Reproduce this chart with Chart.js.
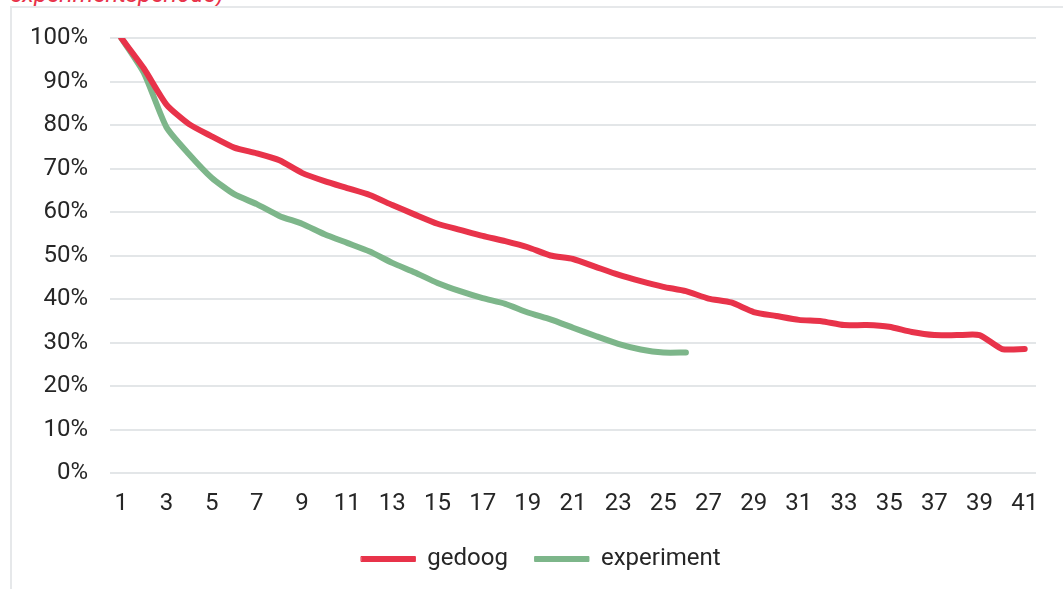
<!DOCTYPE html>
<html>
<head>
<meta charset="utf-8">
<script src="https://cdn.jsdelivr.net/npm/chart.js@4"></script>
<style>
  html, body { margin: 0; padding: 0; background: #fff; }
  body { width: 1063px; height: 589px; position: relative; overflow: hidden; font-family: Roboto, sans-serif; }
  #title { position: absolute; left: 10px; top: -20px; color: #e8334a; font-style: italic; font-size: 24px; white-space: nowrap; }
  #frameTop { position: absolute; left: 10px; top: 6px; width: 1053px; height: 2px; background: #e6e8ea; }
  #frameLeft { position: absolute; left: 10px; top: 6px; width: 2px; height: 583px; background: #e6e8ea; }
  #wrap { position: absolute; left: 0; top: 0; width: 1063px; height: 589px; }
</style>
</head>
<body>
<div id="title">experimentsperiode)</div>
<div id="frameTop"></div>
<div id="frameLeft"></div>
<div id="wrap"><canvas id="c"></canvas></div>
<script>
const categories = Array.from({length: 41}, (_, i) => String(i + 1));
const gedoog = [100, 93, 84.7, 80.2, 77.4, 74.8, 73.5, 71.9, 69, 67.1, 65.5, 63.9, 61.6, 59.4, 57.3, 55.9, 54.5, 53.3, 51.9, 50, 49.2, 47.4, 45.6, 44.1, 42.8, 41.8, 40.1, 39.2, 37, 36.1, 35.2, 34.9, 34, 34, 33.6, 32.4, 31.7, 31.7, 31.7, 28.5, 28.5];
const experiment = [100, 92, 79.5, 73.3, 67.9, 64.1, 61.8, 59.1, 57.3, 54.9, 52.9, 50.9, 48.3, 46.1, 43.7, 41.8, 40.2, 38.9, 36.9, 35.3, 33.4, 31.5, 29.7, 28.4, 27.7, 27.7];
const yTicks = [0, 10, 20, 30, 40, 50, 60, 70, 80, 90, 100];

const FONT = 'Roboto, sans-serif';
Chart.defaults.font.family = FONT;
Chart.defaults.color = '#262626';

const shiftLegend = {
  id: 'shiftLegend',
  afterLayout: function(chart) {
    if (chart.legend) { chart.legend.left += 23; chart.legend.right += 23; }
  }
};

new Chart(document.getElementById('c'), {
  type: 'line',
  plugins: [shiftLegend],
  data: {
    labels: categories,
    datasets: [
      { label: 'gedoog', data: gedoog, borderColor: '#e8334a', backgroundColor: '#e8334a', borderWidth: 6, pointRadius: 0, tension: 0.2, borderCapStyle: 'round', borderJoinStyle: 'round' },
      { label: 'experiment', data: experiment, borderColor: '#7db68a', backgroundColor: '#7db68a', borderWidth: 6, pointRadius: 0, tension: 0.2, borderCapStyle: 'round', borderJoinStyle: 'round' }
    ]
  },
  options: {
    responsive: true,
    maintainAspectRatio: false,
    animation: false,
    layout: { padding: { left: 0, right: 27, top: 38, bottom: 8 } },
    plugins: {
      tooltip: { enabled: false },
      legend: {
        position: 'bottom',
        labels: {
          boxWidth: 54, boxHeight: 5, padding: 27, font: { size: 24 }, color: '#262626',
          generateLabels: function(chart) {
            return Chart.defaults.plugins.legend.labels.generateLabels(chart).map(function(l) {
              l.lineWidth = 1; l.lineCap = 'round'; return l;
            });
          }
        }
      }
    },
    scales: {
      x: {
        offset: true,
        grid: { display: false, drawTicks: false },
        border: { display: false },
        ticks: {
          autoSkip: false, maxRotation: 0, padding: 17, font: { size: 24 },
          callback: function(v, i) { return i % 2 === 0 ? categories[i] : ''; }
        },
        afterFit: function(s) { s.height = 47; }
      },
      y: {
        min: 0, max: 100,
        afterBuildTicks: function(s) { s.ticks = yTicks.map(v => ({ value: v })); },
        grid: { color: '#e3e6e8', lineWidth: 2, drawTicks: false },
        border: { display: false },
        ticks: { padding: 22, font: { size: 24 }, callback: v => v + '%' },
        afterFit: function(s) { s.width = 110; }
      }
    }
  }
});
</script>
</body>
</html>
